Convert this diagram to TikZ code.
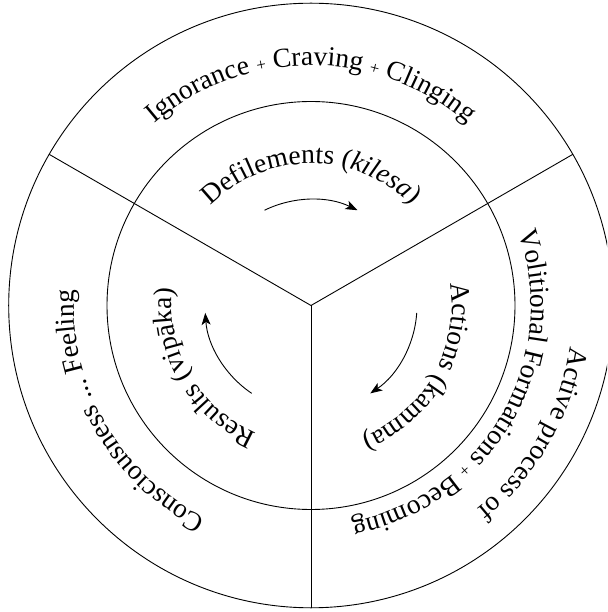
\documentclass[tikz,border=0pt]{standalone}
\usepackage{fontspec}
\setmainfont{Liberation Serif}
\usetikzlibrary{decorations.text,arrows.meta}
\newcommand{\bigf}{\fontsize{27.5}{32}\selectfont}
\newcommand{\plusf}{\fontsize{17}{20}\selectfont}
\begin{document}
\begin{tikzpicture}[x=1pt,y=1pt,
  ring/.style={line width=0.9pt},
  cyc/.style={line width=0.9pt,-{Stealth[length=12pt,width=9pt,inset=3pt]}},
  arctext/.style={decorate, decoration={text along path, text align=center, text={#1}}}
]
\clip (-311,-306.5) rectangle (296,305.5);
\fill[white] (-311,-306.5) rectangle (296,305.5);
\coordinate (c) at (0,0);
\coordinate (o30) at (30:302.3);
\coordinate (o150) at (150:302.3);
\coordinate (o270) at (270:302.3);
\draw[ring] (c) circle[radius=302.3];
\draw[ring] (c) circle[radius=204];
\draw[ring] (c) -- (o30);
\draw[ring] (c) -- (o150);
\draw[ring] (c) -- (o270);
% top sector
\path[arctext={|\bigf|Ignorance |\plusf|+|\bigf| Craving |\plusf|+|\bigf| Clinging}]
  (150:240) arc[start angle=150, end angle=30, radius=240];
\path[arctext={|\bigf|Defilements (|\bigf\itshape|kilesa|\bigf|)}]
  (150:142) arc[start angle=150, end angle=30, radius=142];
% right sector
\path[arctext={|\bigf|Active process of}]
  (30:263) arc[start angle=30, end angle=-90, radius=263];
\path[arctext={|\bigf|Volitional Formations |\plusf|+|\bigf| Becoming}]
  (30:220) arc[start angle=30, end angle=-90, radius=220];
\path[arctext={|\bigf|Actions (kamma)}]
  (30:141) arc[start angle=30, end angle=-90, radius=141];
% left sector
\path[arctext={|\bigf|Consciousness ... Feeling}]
  (270:237) arc[start angle=270, end angle=150, radius=237];
\path[arctext={|\bigf|Results (vipāka)}]
  (270:139) arc[start angle=270, end angle=150, radius=139];
% cycle arrows
\coordinate (a1) at (116:106);
\coordinate (a2) at (-4:106);
\coordinate (a3) at (236:106);
\draw[cyc] (a1) arc[start angle=116, end angle=64, radius=106];
\draw[cyc] (a2) arc[start angle=-4, end angle=-56, radius=106];
\draw[cyc] (a3) arc[start angle=236, end angle=184, radius=106];
\end{tikzpicture}
\end{document}
